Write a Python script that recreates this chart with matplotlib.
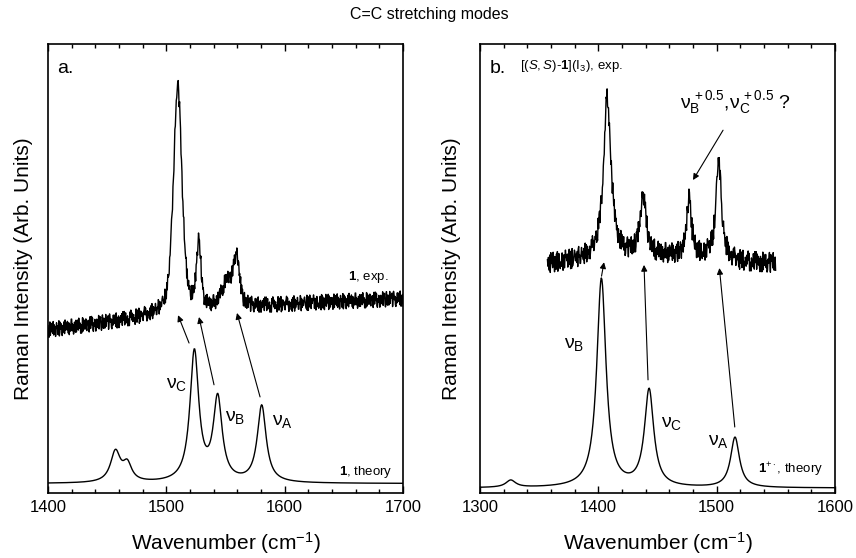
import numpy as np
import matplotlib
matplotlib.use('Agg')
import matplotlib.pyplot as plt
from matplotlib.ticker import MultipleLocator

plt.rcParams['font.family'] = ['Liberation Sans', 'DejaVu Sans']
plt.rcParams['mathtext.fontset'] = 'custom'
plt.rcParams['mathtext.rm'] = 'Liberation Sans'
plt.rcParams['mathtext.it'] = 'Liberation Sans:italic'
plt.rcParams['mathtext.bf'] = 'Liberation Sans:bold'

# ---- data (wavenumber cm-1, intensity in % of axis height) ----
# panel a: compound 1
a_theory_base = 2.1
a_theory_pos = [1457.0, 1467.0, 1523.7, 1543.4, 1580.6]
a_theory_hgt = [6.8, 3.8, 29.0, 18.4, 17.1]
a_theory_fwhm = [10.0, 9.0, 9.0, 9.0, 9.0]

a_exp_base_x = [1400, 1460, 1500, 1560, 1620, 1700]
a_exp_base_y = [36.3, 38.3, 40.0, 41.3, 42.3, 43.3]
a_exp_pos = [1509.6, 1527.4, 1552.0, 1559.5]
a_exp_hgt = [50.5, 14.5, 6.0, 10.0]
a_exp_fwhm = [8.5, 4.5, 12.0, 5.5]

# panel b: [(S,S)-1](I3) and 1+.
b_theory_base = 1.1
b_theory_pos = [1326.0, 1402.6, 1442.9, 1515.5]
b_theory_hgt = [1.6, 46.5, 21.6, 11.2]
b_theory_fwhm = [10.0, 9.4, 9.4, 9.0]

b_exp_base_x = [1357, 1390, 1420, 1455, 1490, 1520, 1550]
b_exp_base_y = [51.0, 52.0, 52.4, 52.8, 52.4, 51.4, 51.2]
b_exp_pos = [1407.6, 1437.8, 1476.7, 1501.7]
b_exp_hgt = [36.0, 13.5, 13.5, 22.0]
b_exp_fwhm = [7.5, 6.0, 4.5, 5.5]

# hand-typed detector noise digits (0..9)
noise_digits = ("7204915836291746038561390284750462819357385170624992650374181478293560"
                "5039184726831657204926948105374057263918682039417513927568049746105283"
                "3581940627026375819479158234604108596372562403971883902174652167948530"
                "6435170829907236485115498072633786421905082953174669517403822413685097"
                "81670539244590812736")


def peaks(x, pos, hgt, fwhm, eta=1.0):
    y = np.zeros_like(x)
    for c, h, f in zip(pos, hgt, fwhm):
        lor = 1.0 / (1.0 + (2 * (x - c) / f) ** 2)
        gau = np.exp(-4 * np.log(2) * (x - c) ** 2 / f ** 2)
        y += h * (eta * lor + (1 - eta) * gau)
    return y


noise = np.array([int(d) for d in noise_digits], dtype=float)
noise = (noise - 4.5) / 4.5

# panel a curves
xa = np.arange(1400, 1700.01, 0.5)
ya_theory = a_theory_base + peaks(xa, a_theory_pos, a_theory_hgt, a_theory_fwhm)
xa_exp = np.arange(1400, 1700.01, 0.4)
ya_exp = (np.interp(xa_exp, a_exp_base_x, a_exp_base_y)
          + peaks(xa_exp, a_exp_pos, a_exp_hgt, a_exp_fwhm, eta=0.5)
          + 1.7 * np.resize(noise, xa_exp.size))

# panel b curves
xb = np.arange(1300, 1600.01, 0.5)
yb_theory = b_theory_base + peaks(xb, b_theory_pos, b_theory_hgt, b_theory_fwhm)
xb_exp = np.arange(1357, 1550.01, 0.4)
yb_exp = (np.interp(xb_exp, b_exp_base_x, b_exp_base_y)
          + peaks(xb_exp, b_exp_pos, b_exp_hgt, b_exp_fwhm)
          + 2.2 * np.resize(noise[::-1], xb_exp.size))

fig = plt.figure(figsize=(8.56, 5.58), dpi=100)
ax1 = fig.add_axes([48 / 856, 65 / 558, 355 / 856, 449 / 558])
ax2 = fig.add_axes([480 / 856, 65 / 558, 355 / 856, 449 / 558])

ax1.plot(xa, ya_theory, color='k', lw=1.0)
ax1.plot(xa_exp, ya_exp, color='k', lw=1.0)
ax2.plot(xb, yb_theory, color='k', lw=1.0)
ax2.plot(xb_exp, yb_exp, color='k', lw=1.0)

ax1.set_xlim(1400, 1700)
ax2.set_xlim(1300, 1600)
for ax, lc in ((ax1, -0.042), (ax2, -0.054)):
    ax.set_ylim(0, 100)
    ax.set_yticks([])
    ax.xaxis.set_major_locator(MultipleLocator(100))
    ax.xaxis.set_minor_locator(MultipleLocator(20))
    ax.tick_params(which='both', direction='in', top=True, bottom=True, width=1.0, labelsize=12, pad=5)
    ax.tick_params(which='major', length=5)
    ax.tick_params(which='minor', length=3)
    for s in ax.spines.values():
        s.set_linewidth(1.2)
    ax.set_xlabel('Wavenumber (cm$^{-1}$)', fontsize=15)
    ax.xaxis.set_label_coords(0.5, -0.082)
    ax.set_ylabel('Raman Intensity (Arb. Units)', fontsize=15)
    ax.yaxis.set_label_coords(lc, 0.5)

arrow = dict(arrowstyle='-|>', color='k', lw=0.8, mutation_scale=9, shrinkA=0, shrinkB=0)

# panel a annotations
ax1.text(1407.6, 94.6, 'a.', fontsize=14, ha='left', va='center')
ax1.text(1687.5, 48.1, r'$\mathbf{1}$, exp.', fontsize=9.5, ha='right', va='center')
ax1.text(1691.5, 4.7, r'$\mathbf{1}$, theory', fontsize=9.5, ha='right', va='center')
ax1.text(1499.7, 24.1, r'ν$_\mathrm{C}$', fontsize=14, ha='left', va='center')
ax1.text(1549.6, 16.9, r'ν$_\mathrm{B}$', fontsize=14, ha='left', va='center')
ax1.text(1589.0, 16.0, r'ν$_\mathrm{A}$', fontsize=14, ha='left', va='center')
ax1.annotate('', xy=(1509.9, 39.6), xytext=(1519.2, 33.4), arrowprops=arrow)
ax1.annotate('', xy=(1527.6, 39.2), xytext=(1540.3, 24.1), arrowprops=arrow)
ax1.annotate('', xy=(1559.7, 40.1), xytext=(1579.2, 21.4), arrowprops=arrow)

# panel b annotations
ax2.text(1308.5, 94.6, 'b.', fontsize=14, ha='left', va='center')
ax2.text(1333.8, 95.0, r'[($\mathit{S,S}$)-$\mathbf{1}$](I$_3$), exp.', fontsize=9.5, ha='left', va='center')
ax2.text(1371.0, 33.0, r'ν$_\mathrm{B}$', fontsize=14, ha='left', va='center')
ax2.text(1453.0, 15.4, r'ν$_\mathrm{C}$', fontsize=14, ha='left', va='center')
ax2.text(1492.7, 11.4, r'ν$_\mathrm{A}$', fontsize=14, ha='left', va='center')
ax2.text(1535.0, 5.1, r'$\mathbf{1}^{+\cdot}$, theory', fontsize=9.5, ha='left', va='center')
ax2.text(1469.0, 87.0, r'ν$_\mathrm{B}^{\,+0.5}$,ν$_\mathrm{C}^{\,+0.5}$ ?', fontsize=14, ha='left', va='center')
ax2.annotate('', xy=(1404.8, 51.4), xytext=(1402.7, 48.3), arrowprops=arrow)
ax2.annotate('', xy=(1438.6, 50.8), xytext=(1442.0, 25.2), arrowprops=arrow)
ax2.annotate('', xy=(1502.3, 50.1), xytext=(1515.3, 14.7), arrowprops=arrow)
ax2.annotate('', xy=(1480.0, 69.7), xytext=(1505.4, 80.8), arrowprops=arrow)

fig.text(0.502, 1 - 15 / 558, 'C=C stretching modes', ha='center', va='center', fontsize=11.5)

fig.savefig('out.png', dpi=100)
